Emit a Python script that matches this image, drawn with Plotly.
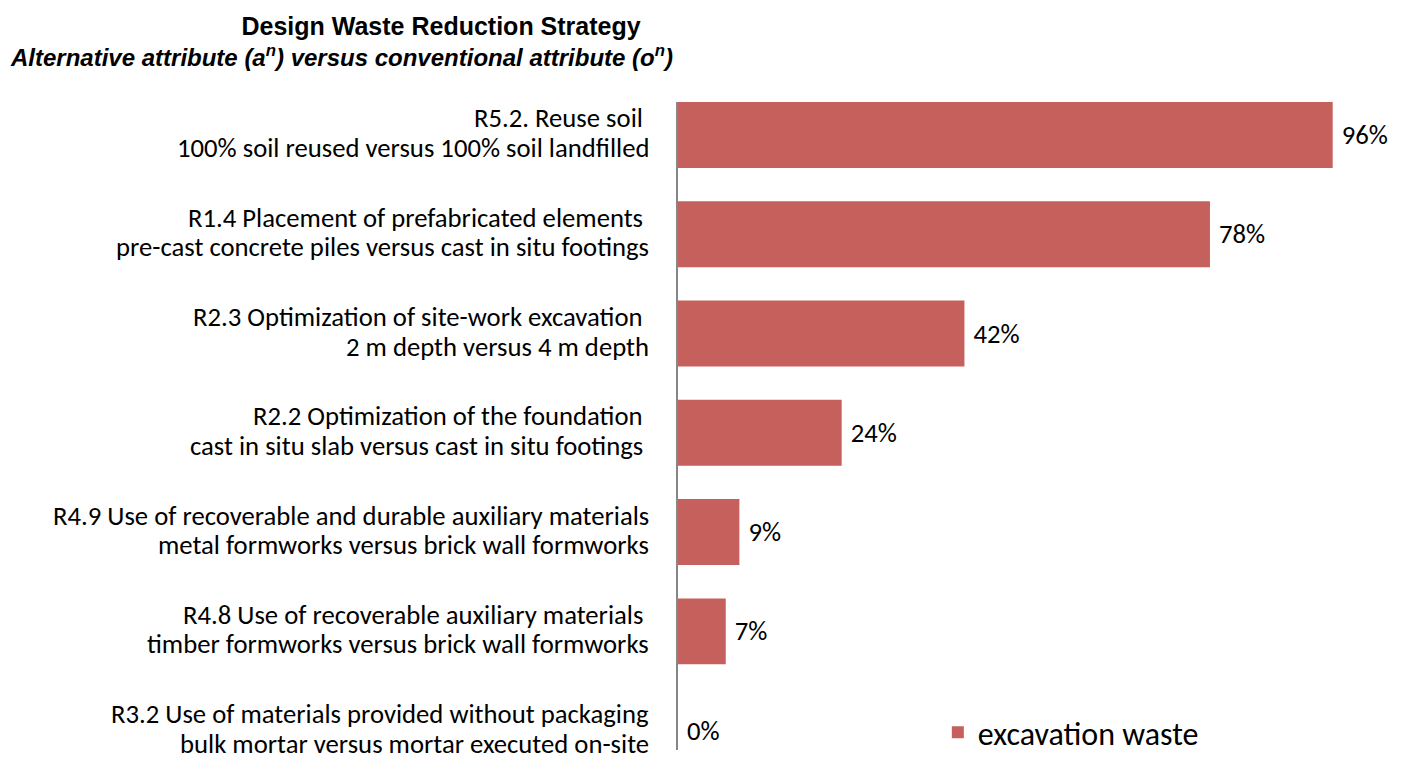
import plotly.graph_objects as go

# strategy names (first label line) and the compared attributes (second line)
strategies = [
    "R5.2. Reuse soil\u00a0",
    "R1.4 Placement of prefabricated elements\u00a0",
    "R2.3 Optimization of site-work excavation\u00a0",
    "R2.2 Optimization of the foundation\u00a0",
    "R4.9 Use of recoverable and durable auxiliary materials",
    "R4.8 Use of recoverable auxiliary materials\u00a0",
    "R3.2 Use of materials provided without packaging",
]
attributes = [
    "100% soil reused versus 100% soil landfilled",
    "pre-cast concrete piles versus cast in situ footings",
    "2 m depth versus 4 m depth",
    "cast in situ slab versus cast in situ footings\u00a0",
    "metal formworks versus brick wall formworks",
    "timber formworks versus brick wall formworks",
    "bulk mortar versus mortar executed on-site",
]
excavation_waste = [96, 78, 42, 24, 9, 7, 0]

bar_color = "#C5605D"
label_font = dict(family="Calibri, Carlito, Open Sans", size=26.7, color="#000000")

fig = go.Figure()

fig.add_trace(
    go.Bar(
        x=excavation_waste,
        y=strategies,
        orientation="h",
        name="excavation waste",
        marker=dict(color=bar_color, line=dict(width=0)),
        text=excavation_waste,
        texttemplate="\u00a0%{x:.0f}%",
        textposition="outside",
        textfont=label_font,
        cliponaxis=False,
        hoverinfo="skip",
    )
)

# two-line category labels
for name, attr in zip(strategies, attributes):
    for txt, shift in ((name, 16.5), (attr, -13)):
        fig.add_annotation(
            text=txt,
            x=0,
            y=name,
            xref="x",
            yref="y",
            xanchor="right",
            yanchor="middle",
            xshift=-27,
            yshift=shift,
            showarrow=False,
            font=label_font,
        )

fig.add_annotation(
    text="<b><i>Alternative attribute (a<sup>n</sup>) versus conventional attribute (o<sup>n</sup>)</i></b>",
    x=-0.494,
    y=1.0714,
    xref="paper",
    yref="paper",
    xanchor="center",
    yanchor="middle",
    showarrow=False,
    font=dict(family="Arial, Liberation Sans", size=24, color="#000000"),
)

fig.update_layout(
    title=dict(
        text="<b>Design Waste Reduction Strategy</b>",
        font=dict(family="Arial, Liberation Sans", size=25, color="#000000"),
        xref="container",
        yref="container",
        x=0.31,
        y=0.976,
        xanchor="center",
        yanchor="middle",
    ),
    xaxis=dict(
        range=[0, 100],
        visible=False,
        fixedrange=True,
    ),
    yaxis=dict(
        type="category",
        range=[6.195, -0.332],
        showticklabels=False,
        showgrid=False,
        zeroline=False,
        showline=True,
        linecolor="#868686",
        linewidth=2,
        ticks="",
    ),
    bargap=0.336,
    legend=dict(
        orientation="h",
        x=0.381,
        y=0.027,
        xanchor="left",
        yanchor="middle",
        font=dict(family="Calibri, Carlito, Open Sans", size=32, color="#000000"),
        bgcolor="rgba(0,0,0,0)",
    ),
    showlegend=True,
    margin=dict(l=670, r=45, t=94, b=0, pad=0),
    plot_bgcolor="#FFFFFF",
    paper_bgcolor="#FFFFFF",
    width=1397,
    height=752,
)

fig.write_html("out.html")
